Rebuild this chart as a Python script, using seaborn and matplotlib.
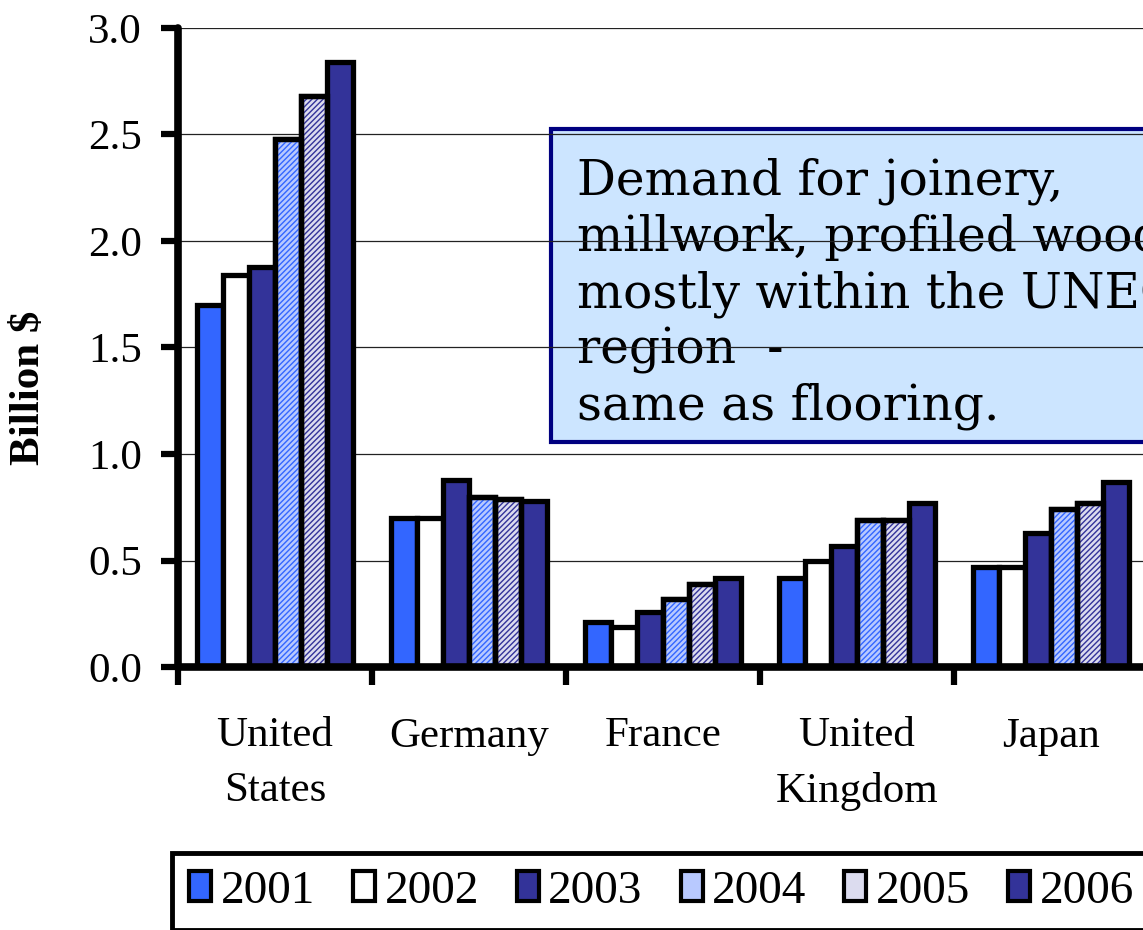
import matplotlib
matplotlib.use("Agg")
import matplotlib.pyplot as plt
from matplotlib.patches import Rectangle, Patch
import seaborn as sns
import pandas as pd

# data (billion $)
countries = ["United\nStates", "Germany", "France", "United\nKingdom", "Japan"]
years = ["2001", "2002", "2003", "2004", "2005", "2006"]
v2001 = [1.70, 0.70, 0.21, 0.42, 0.47]
v2002 = [1.84, 0.70, 0.19, 0.50, 0.47]
v2003 = [1.88, 0.88, 0.26, 0.57, 0.63]
v2004 = [2.48, 0.80, 0.32, 0.69, 0.74]
v2005 = [2.68, 0.79, 0.39, 0.69, 0.77]
v2006 = [2.84, 0.78, 0.42, 0.77, 0.87]
note = "Demand for joinery,\nmillwork, profiled wood\nmostly within the UNECE\nregion  -\nsame as flooring."

face_colors = ["#3366ff", "#ffffff", "#333399", "#b8c9ff", "#dcdcef", "#333399"]
hatch_colors = [None, None, None, "#3366ff", "#333399", None]

series = [v2001, v2002, v2003, v2004, v2005, v2006]
rows = []
for yr, vals in zip(years, series):
    for c, v in zip(countries, vals):
        rows.append({"country": c, "year": yr, "value": v})
df = pd.DataFrame(rows)

sns.set_style("white")
plt.rcParams["font.family"] = ["Liberation Serif", "DejaVu Serif"]
plt.rcParams["text.color"] = "black"
plt.rcParams["axes.labelcolor"] = "black"
plt.rcParams["xtick.color"] = "black"
plt.rcParams["ytick.color"] = "black"
plt.rcParams["hatch.linewidth"] = 1.0

W, H = 1143, 930
fig = plt.figure(figsize=(W / 100, H / 100), dpi=100)
# axes extends past the right edge, as in the cropped original
ax_left, ax_right, ax_top, ax_bottom = 178, 1148, 28, 667
ax = fig.add_axes([ax_left / W, 1 - ax_bottom / H,
                   (ax_right - ax_left) / W, (ax_bottom - ax_top) / H])

sns.barplot(data=df, x="country", y="value", hue="year", order=countries,
            hue_order=years, palette=face_colors, edgecolor="black",
            linewidth=3.8, width=0.8, gap=0, saturation=1, legend=False, ax=ax)

# hatched fills for 2004 and 2005
for cont, hc in zip(ax.containers, hatch_colors):
    if hc is None:
        continue
    for p in cont.patches:
        x, y, w, h = p.get_x(), p.get_y(), p.get_width(), p.get_height()
        ax.add_patch(Rectangle((x, y), w, h, facecolor="none", edgecolor=hc,
                               linewidth=0, hatch="//////", zorder=p.get_zorder() + 0.1))
        ax.add_patch(Rectangle((x, y), w, h, facecolor="none", edgecolor="black",
                               linewidth=3.8, zorder=p.get_zorder() + 0.2))

ax.set_xlim(-0.5, len(countries) - 0.5)
ax.set_ylim(0, 3.0)
ax.set_yticks([0, 0.5, 1.0, 1.5, 2.0, 2.5, 3.0])
ax.set_yticklabels(["0.0", "0.5", "1.0", "1.5", "2.0", "2.5", "3.0"], fontsize=31)
ax.set_xticks(range(len(countries)))
ax.set_xticklabels(countries, fontsize=31, linespacing=1.55)
ax.set_xticks([i - 0.5 for i in range(len(countries) + 1)], minor=True)

ax.set_axisbelow(True)
ax.yaxis.grid(True, color="#222222", linewidth=0.9)
ax.xaxis.grid(False)

for side in ["top", "right"]:
    ax.spines[side].set_visible(False)
for side in ["left", "bottom"]:
    ax.spines[side].set_linewidth(5.5)
    ax.spines[side].set_color("black")
    ax.spines[side].set_capstyle("round")

ax.tick_params(axis="y", which="major", left=True, length=12, width=4.5,
               pad=14, color="black")
ax.tick_params(axis="x", which="major", bottom=True, length=0, pad=36)
ax.tick_params(axis="x", which="minor", bottom=True, length=13, width=4.5,
               color="black")

ax.set_xlabel("")
ax.set_ylabel("Billion $", fontsize=31, fontweight="bold")
ax.yaxis.set_label_coords((48 - ax_left) / (ax_right - ax_left),
                          (ax_bottom - 388) / (ax_bottom - ax_top))

# note box, drawn under the gridlines
def axfrac(px, py):
    return ((px - ax_left) / (ax_right - ax_left), (ax_bottom - py) / (ax_bottom - ax_top))

bx0, by0 = axfrac(551, 442)
bx1, by1 = axfrac(1200, 129)
ax.add_patch(Rectangle((bx0, by0), bx1 - bx0, by1 - by0, transform=ax.transAxes,
                       facecolor="#cce5ff", edgecolor="#000080", linewidth=3,
                       clip_on=False, zorder=0.2))
tx, ty = axfrac(577, 420)
ax.text(tx, ty, note, transform=ax.transAxes, ha="left", va="baseline",
        fontsize=35, family=["DejaVu Serif"], linespacing=1.24,
        zorder=0.3, clip_on=False)

# legend
handles = [Patch(facecolor=fc, edgecolor="black", linewidth=3) for fc in face_colors]
leg = fig.legend(handles, years, loc="upper left", bbox_to_anchor=(172 / W, 1 - 853 / H),
                 ncol=6, fontsize=34, frameon=True, fancybox=False, framealpha=1,
                 handlelength=0.47, handleheight=0.6, handletextpad=0.2,
                 columnspacing=0.8, borderpad=0.36, borderaxespad=0)
leg.get_frame().set_edgecolor("black")
leg.get_frame().set_linewidth(3.5)

fig.savefig("out.png", dpi=100)
